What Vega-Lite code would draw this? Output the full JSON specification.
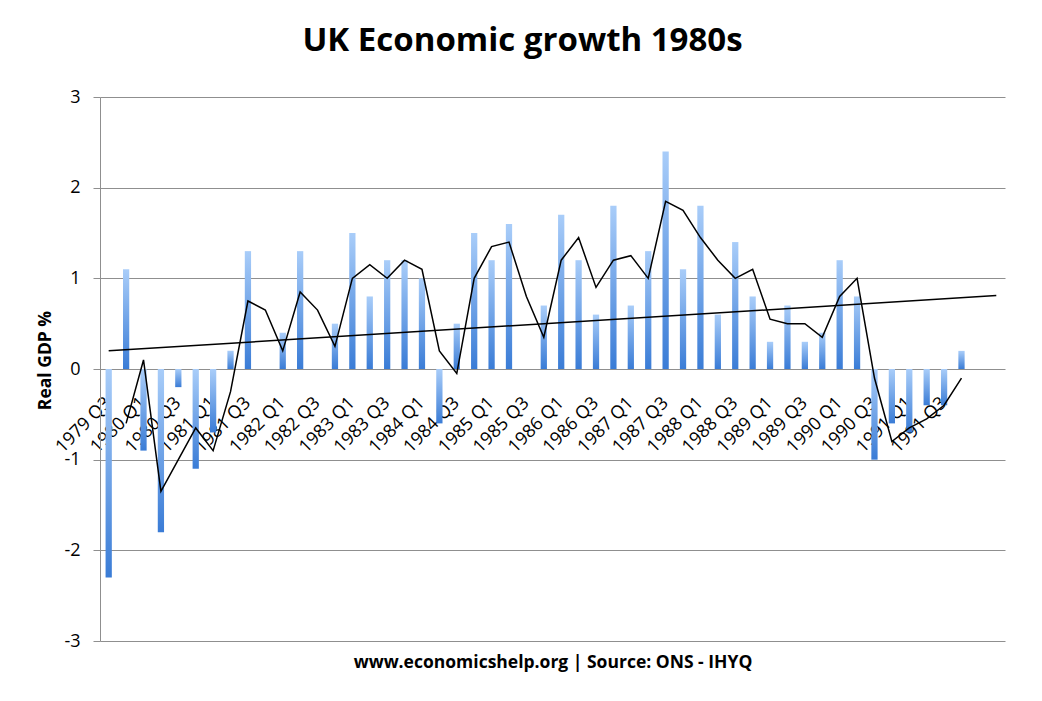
{
  "$schema": "https://vega.github.io/schema/vega-lite/v6.json",
  "autosize": {"type": "none"},
  "padding": {"left": 100, "top": 97, "right": 37, "bottom": 60},
  "width": 905,
  "height": 544,
  "title": {
    "text": "UK Economic growth 1980s",
    "font": "Open Sans",
    "fontSize": 33,
    "fontWeight": "bold",
    "color": "black",
    "anchor": "middle",
    "frame": "group",
    "dx": -30,
    "baseline": "alphabetic",
    "offset": 4
  },
  "config": {
    "view": {"stroke": null},
    "font": "Open Sans"
  },
  "data": {
    "values": [
      {"q": "1979 Q3", "v": -2.3, "ma": null},
      {"q": "1979 Q4", "v": 1.1, "ma": -0.6},
      {"q": "1980 Q1", "v": -0.9, "ma": 0.1},
      {"q": "1980 Q2", "v": -1.8, "ma": -1.35},
      {"q": "1980 Q3", "v": -0.2, "ma": -1.0},
      {"q": "1980 Q4", "v": -1.1, "ma": -0.65},
      {"q": "1981 Q1", "v": -0.7, "ma": -0.9},
      {"q": "1981 Q2", "v": 0.2, "ma": -0.25},
      {"q": "1981 Q3", "v": 1.3, "ma": 0.75},
      {"q": "1981 Q4", "v": 0.0, "ma": 0.65},
      {"q": "1982 Q1", "v": 0.4, "ma": 0.2},
      {"q": "1982 Q2", "v": 1.3, "ma": 0.85},
      {"q": "1982 Q3", "v": 0.0, "ma": 0.65},
      {"q": "1982 Q4", "v": 0.5, "ma": 0.25},
      {"q": "1983 Q1", "v": 1.5, "ma": 1.0},
      {"q": "1983 Q2", "v": 0.8, "ma": 1.15},
      {"q": "1983 Q3", "v": 1.2, "ma": 1.0},
      {"q": "1983 Q4", "v": 1.2, "ma": 1.2},
      {"q": "1984 Q1", "v": 1.0, "ma": 1.1},
      {"q": "1984 Q2", "v": -0.6, "ma": 0.2},
      {"q": "1984 Q3", "v": 0.5, "ma": -0.05},
      {"q": "1984 Q4", "v": 1.5, "ma": 1.0},
      {"q": "1985 Q1", "v": 1.2, "ma": 1.35},
      {"q": "1985 Q2", "v": 1.6, "ma": 1.4},
      {"q": "1985 Q3", "v": 0.0, "ma": 0.8},
      {"q": "1985 Q4", "v": 0.7, "ma": 0.35},
      {"q": "1986 Q1", "v": 1.7, "ma": 1.2},
      {"q": "1986 Q2", "v": 1.2, "ma": 1.45},
      {"q": "1986 Q3", "v": 0.6, "ma": 0.9},
      {"q": "1986 Q4", "v": 1.8, "ma": 1.2},
      {"q": "1987 Q1", "v": 0.7, "ma": 1.25},
      {"q": "1987 Q2", "v": 1.3, "ma": 1.0},
      {"q": "1987 Q3", "v": 2.4, "ma": 1.85},
      {"q": "1987 Q4", "v": 1.1, "ma": 1.75},
      {"q": "1988 Q1", "v": 1.8, "ma": 1.45},
      {"q": "1988 Q2", "v": 0.6, "ma": 1.2},
      {"q": "1988 Q3", "v": 1.4, "ma": 1.0},
      {"q": "1988 Q4", "v": 0.8, "ma": 1.1},
      {"q": "1989 Q1", "v": 0.3, "ma": 0.55},
      {"q": "1989 Q2", "v": 0.7, "ma": 0.5},
      {"q": "1989 Q3", "v": 0.3, "ma": 0.5},
      {"q": "1989 Q4", "v": 0.4, "ma": 0.35},
      {"q": "1990 Q1", "v": 1.2, "ma": 0.8},
      {"q": "1990 Q2", "v": 0.8, "ma": 1.0},
      {"q": "1990 Q3", "v": -1.0, "ma": -0.1},
      {"q": "1990 Q4", "v": -0.6, "ma": -0.8},
      {"q": "1991 Q1", "v": -0.7, "ma": -0.65},
      {"q": "1991 Q2", "v": -0.4, "ma": -0.55},
      {"q": "1991 Q3", "v": -0.4, "ma": -0.4},
      {"q": "1991 Q4", "v": 0.2, "ma": -0.1}
    ]
  },
  "encoding": {
    "x": {
      "field": "q",
      "type": "nominal",
      "sort": null,
      "scale": {
        "domain": [
          "1979 Q3", "1979 Q4", "1980 Q1", "1980 Q2", "1980 Q3", "1980 Q4",
          "1981 Q1", "1981 Q2", "1981 Q3", "1981 Q4", "1982 Q1", "1982 Q2",
          "1982 Q3", "1982 Q4", "1983 Q1", "1983 Q2", "1983 Q3", "1983 Q4",
          "1984 Q1", "1984 Q2", "1984 Q3", "1984 Q4", "1985 Q1", "1985 Q2",
          "1985 Q3", "1985 Q4", "1986 Q1", "1986 Q2", "1986 Q3", "1986 Q4",
          "1987 Q1", "1987 Q2", "1987 Q3", "1987 Q4", "1988 Q1", "1988 Q2",
          "1988 Q3", "1988 Q4", "1989 Q1", "1989 Q2", "1989 Q3", "1989 Q4",
          "1990 Q1", "1990 Q2", "1990 Q3", "1990 Q4", "1991 Q1", "1991 Q2",
          "1991 Q3", "1991 Q4", "1992 Q1", "1992 Q2"
        ],
        "paddingInner": 0,
        "paddingOuter": 0
      },
      "axis": {
        "orient": "bottom",
        "offset": -272,
        "values": [
          "1979 Q3", "1980 Q1", "1980 Q3", "1981 Q1", "1981 Q3", "1982 Q1",
          "1982 Q3", "1983 Q1", "1983 Q3", "1984 Q1", "1984 Q3", "1985 Q1",
          "1985 Q3", "1986 Q1", "1986 Q3", "1987 Q1", "1987 Q3", "1988 Q1",
          "1988 Q3", "1989 Q1", "1989 Q3", "1990 Q1", "1990 Q3", "1991 Q1",
          "1991 Q3"
        ],
        "domain": false,
        "ticks": false,
        "grid": false,
        "labelAngle": -45,
        "labelAlign": "right",
        "labelBaseline": "middle",
        "labelPadding": 31,
        "labelFontSize": 18,
        "labelColor": "black",
        "labelOverlap": false,
        "labelBound": false,
        "labelFlush": false,
        "title": "www.economicshelp.org | Source: ONS - IHYQ",
        "titleFontSize": 17.5,
        "titleFontWeight": "bold",
        "titleColor": "black",
        "titleY": 298,
        "titleBaseline": "alphabetic"
      }
    }
  },
  "layer": [
    {
      "mark": {
        "type": "bar",
        "width": {"band": 0.36},
        "color": {
          "gradient": "linear",
          "x1": 0, "y1": 0, "x2": 0, "y2": 1,
          "stops": [
            {"offset": 0, "color": "#a9cdf9"},
            {"offset": 1, "color": "#3a7cd6"}
          ]
        }
      },
      "encoding": {
        "y": {
          "field": "v",
          "type": "quantitative",
          "scale": {"domain": [-3, 3], "nice": false},
          "axis": {
            "values": [-3, -2, -1, 0, 1, 2, 3],
            "labelExpr": "toString(datum.value)",
            "grid": true,
            "gridColor": "#8f8f8f",
            "gridOpacity": 1,
            "domainColor": "#8f8f8f",
            "tickColor": "#8f8f8f",
            "tickSize": 7,
            "labelPadding": 13,
            "labelFontSize": 18,
            "labelColor": "black",
            "title": "Real GDP %",
            "titleFontSize": 17.5,
            "titleFontWeight": "bold",
            "titleColor": "black",
            "titleAngle": -90,
            "titleX": -55,
            "titleY": 263,
            "titleAlign": "center",
            "titleBaseline": "middle"
          }
        }
      }
    },
    {
      "mark": {"type": "line", "color": "black", "strokeWidth": 1.5},
      "encoding": {
        "y": {"field": "ma", "type": "quantitative"}
      }
    },
    {
      "data": {
        "values": [
          {"q": "1979 Q3", "trend": 0.2},
          {"q": "1992 Q2", "trend": 0.81}
        ]
      },
      "mark": {"type": "line", "color": "black", "strokeWidth": 1.5},
      "encoding": {
        "y": {"field": "trend", "type": "quantitative"}
      }
    }
  ]
}
